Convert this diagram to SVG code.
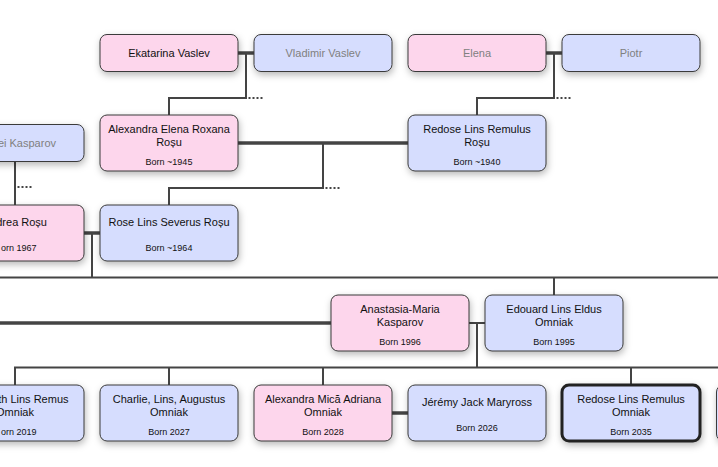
<svg xmlns="http://www.w3.org/2000/svg" width="718" height="467" viewBox="0 0 718 467">
<defs>
<filter id="sh" x="-20%" y="-30%" width="140%" height="170%">
<feDropShadow dx="1" dy="3" stdDeviation="3.5" flood-color="#000" flood-opacity="0.28"/>
</filter>
</defs>
<style>
.node rect{stroke:#3a3a3a;stroke-width:1;filter:url(#sh)}
.f rect{fill:#fdd6ec}
.m rect{fill:#d6ddfe}
.main rect{stroke:#222;stroke-width:3}
text{font-family:"Liberation Sans",Arial,sans-serif;fill:#111;text-anchor:middle}
.nm{font-size:11px}
.bn{font-size:9px}
.dim{fill:#808080}
.end{text-anchor:end}
.couple{stroke:#444;stroke-width:3.5;fill:none}
.link{stroke:#444;stroke-width:2;fill:none}
.dots{stroke:#444;stroke-width:2.2;stroke-dasharray:2 2;fill:none}
</style>
<rect width="718" height="467" fill="#fff"/>
<g id="connectors">
<line class="couple" x1="238" y1="53" x2="254" y2="53"/>
<polyline class="link" points="246,53 246,98 169,98 169,115"/>
<line class="dots" x1="248.5" y1="98" x2="264" y2="98"/>
<line class="couple" x1="546" y1="53" x2="562" y2="53"/>
<polyline class="link" points="554,53 554,98 477,98 477,115"/>
<line class="dots" x1="556.5" y1="98" x2="572" y2="98"/>
<line class="link" x1="15" y1="161" x2="15" y2="205"/>
<line class="dots" x1="17.5" y1="187" x2="33" y2="187"/>
<line class="couple" x1="238" y1="143" x2="408" y2="143"/>
<polyline class="link" points="323,143 323,188 169,188 169,205"/>
<line class="dots" x1="325.5" y1="188" x2="341" y2="188"/>
<line class="couple" x1="84" y1="233" x2="100" y2="233"/>
<line class="link" x1="92" y1="233" x2="92" y2="277.5"/>
<line class="link" x1="0" y1="277.5" x2="718" y2="277.5"/>
<line class="link" x1="554" y1="277.5" x2="554" y2="295"/>
<line class="couple" x1="0" y1="323" x2="331" y2="323"/>
<line class="link" x1="469" y1="323" x2="485" y2="323"/>
<line class="link" x1="477" y1="323" x2="477" y2="367.5"/>
<polyline class="link" points="15,385 15,367.5 718,367.5"/>
<line class="link" x1="169" y1="367.5" x2="169" y2="385"/>
<line class="link" x1="323" y1="367.5" x2="323" y2="385"/>
<line class="link" x1="631" y1="367.5" x2="631" y2="385"/>
<line class="couple" x1="392" y1="413" x2="408" y2="413"/>
</g>
<g id="n-ekatarina" class="node f"><rect x="100" y="34.5" width="138" height="37" rx="7"/><text class="nm" x="169" y="56.5">Ekatarina Vaslev</text></g>
<g id="n-vladimir" class="node m"><rect x="254" y="34.5" width="138" height="37" rx="7"/><text class="nm dim" x="323" y="56.5">Vladimir Vaslev</text></g>
<g id="n-elena" class="node f"><rect x="408" y="34.5" width="138" height="37" rx="7"/><text class="nm dim" x="477" y="56.5">Elena</text></g>
<g id="n-piotr" class="node m"><rect x="562" y="34.5" width="138" height="37" rx="7"/><text class="nm dim" x="631" y="56.5">Piotr</text></g>
<g id="n-kasparov" class="node m"><rect x="-54" y="124.5" width="138" height="37" rx="7"/><text class="nm dim end" x="56" y="147">ei Kasparov</text></g>
<g id="n-alexandra" class="node f"><rect x="100" y="115" width="138" height="56" rx="7"/><text class="nm" x="169" y="133.3">Alexandra Elena Roxana</text><text class="nm" x="169" y="145.7">Roșu</text><text class="bn" x="169" y="164.8">Born ~1945</text></g>
<g id="n-redose-rosu" class="node m"><rect x="408" y="115" width="138" height="56" rx="7"/><text class="nm" x="477" y="133.3">Redose Lins Remulus</text><text class="nm" x="477" y="145.7">Roșu</text><text class="bn" x="477" y="164.8">Born ~1940</text></g>
<g id="n-andrea" class="node f"><rect x="-54" y="205" width="138" height="56" rx="7"/><text class="nm end" x="47" y="225.6">drea Roșu</text><text class="bn end" x="36.5" y="250.8">orn 1967</text></g>
<g id="n-rose" class="node m"><rect x="100" y="205" width="138" height="56" rx="7"/><text class="nm" x="169" y="225.6">Rose Lins Severus Roșu</text><text class="bn" x="169" y="250.8">Born ~1964</text></g>
<g id="n-anastasia" class="node f"><rect x="331" y="295" width="138" height="56" rx="7"/><text class="nm" x="400" y="313.3">Anastasia-Maria</text><text class="nm" x="400" y="325.7">Kasparov</text><text class="bn" x="400" y="344.8">Born 1996</text></g>
<g id="n-edouard" class="node m"><rect x="485" y="295" width="138" height="56" rx="7"/><text class="nm" x="554" y="313.3">Edouard Lins Eldus</text><text class="nm" x="554" y="325.7">Omniak</text><text class="bn" x="554" y="344.8">Born 1995</text></g>
<g id="n-child1" class="node m"><rect x="-54" y="385" width="138" height="56" rx="7"/><text class="nm end" x="68.5" y="403.3">th Lins Remus</text><text class="nm" x="15" y="415.7">Omniak</text><text class="bn end" x="36.5" y="434.8">orn 2019</text></g>
<g id="n-charlie" class="node m"><rect x="100" y="385" width="138" height="56" rx="7"/><text class="nm" x="169" y="403.3">Charlie, Lins, Augustus</text><text class="nm" x="169" y="415.7">Omniak</text><text class="bn" x="169" y="434.8">Born 2027</text></g>
<g id="n-alexandra-mica" class="node f"><rect x="254" y="385" width="138" height="56" rx="7"/><text class="nm" x="323" y="403.3">Alexandra Mică Adriana</text><text class="nm" x="323" y="415.7">Omniak</text><text class="bn" x="323" y="434.8">Born 2028</text></g>
<g id="n-jeremy" class="node m"><rect x="408" y="385" width="138" height="56" rx="7"/><text class="nm" x="477" y="405.6">Jérémy Jack Maryross</text><text class="bn" x="477" y="430.8">Born 2026</text></g>
<g id="n-redose-omniak" class="node m main"><rect x="562" y="385" width="138" height="56" rx="7"/><text class="nm" x="631" y="403.3">Redose Lins Remulus</text><text class="nm" x="631" y="415.7">Omniak</text><text class="bn" x="631" y="434.8">Born 2035</text></g>
<g id="n-right" class="node m"><rect x="716.5" y="385" width="138" height="56" rx="7"/></g>
</svg>
